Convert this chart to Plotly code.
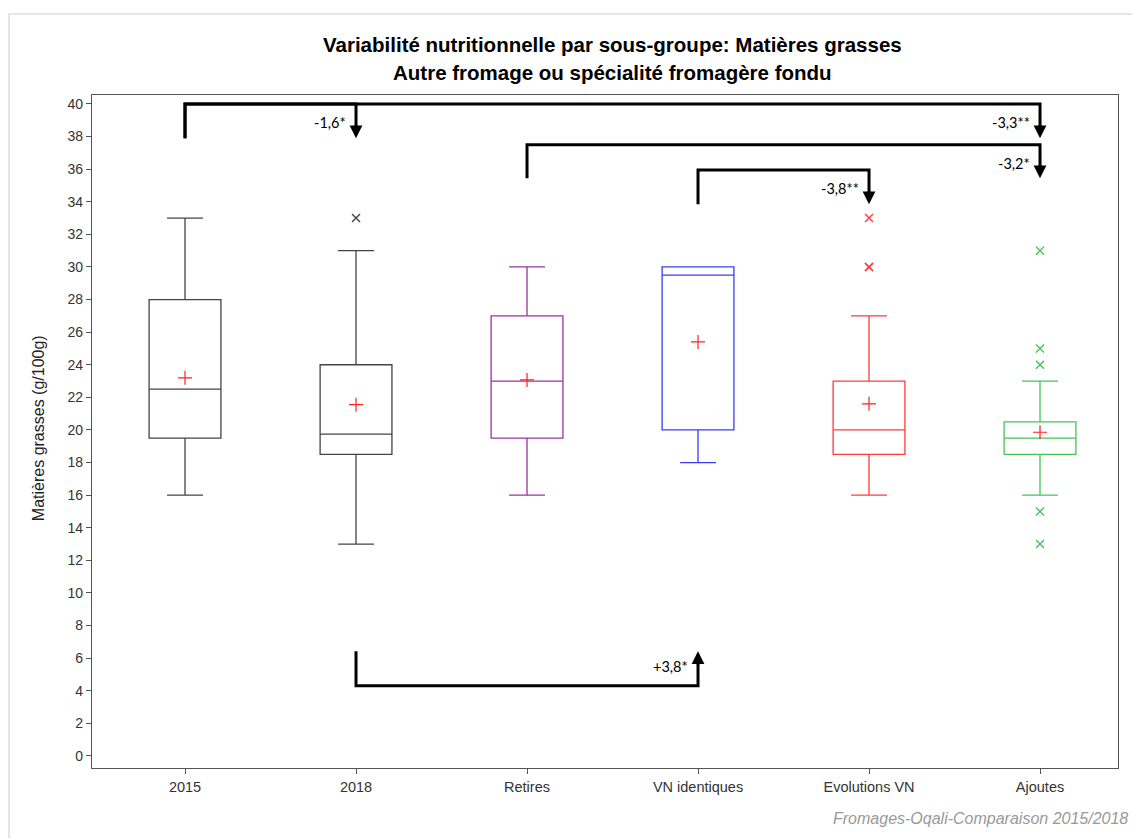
import plotly.graph_objects as go

categories = ["2015", "2018", "Retires", "VN identiques", "Evolutions VN", "Ajoutes"]
colors = ["#444444", "#444444", "#9933A0", "#3B3BF5", "#FF3B3B", "#46C458"]

lower_whisker = [16.0, 13.0, 16.0, 18.0, 16.0, 16.0]
q1 = [19.5, 18.5, 19.5, 20.0, 18.5, 18.5]
median = [22.5, 19.75, 23.0, 29.5, 20.0, 19.5]
q3 = [28.0, 24.0, 27.0, 30.0, 23.0, 20.5]
upper_whisker = [33.0, 31.0, 30.0, 30.0, 27.0, 23.0]
means = [23.2, 21.55, 23.07, 25.4, 21.6, 19.86]
outliers = [[], [33.0], [], [], [33.0, 30.0, 30.0], [31.0, 25.0, 24.0, 15.0, 13.0]]

# significance comparisons: (from, to, bracket level, end level, label)
comparisons = [
    ("2015", "2018", 40.0, 37.9, "-1,6*"),
    ("2015", "Ajoutes", 40.0, 37.9, "-3,3**"),
    ("Retires", "Ajoutes", 37.5, 35.45, "-3,2*"),
    ("VN identiques", "Evolutions VN", 35.95, 33.85, "-3,8**"),
    ("2018", "VN identiques", 4.3, 6.42, "+3,8*"),
]

title_lines = ["Variabilité nutritionnelle par sous-groupe: Matières grasses",
               "Autre fromage ou spécialité fromagère fondu"]
y_title = "Matières grasses (g/100g)"
footer = "Fromages-Oqali-Comparaison 2015/2018"

fig = go.Figure()
idx = {c: i for i, c in enumerate(categories)}

for i, c in enumerate(categories):
    fig.add_trace(go.Box(
        x=[i], q1=[q1[i]], median=[median[i]], q3=[q3[i]],
        lowerfence=[lower_whisker[i]], upperfence=[upper_whisker[i]],
        width=0.42, whiskerwidth=0.5,
        line=dict(color=colors[i], width=1.3),
        fillcolor="rgba(0,0,0,0)", boxpoints=False, name=c, showlegend=False,
        hoverinfo="skip",
    ))
    if outliers[i]:
        fig.add_trace(go.Scatter(
            x=[i] * len(outliers[i]), y=outliers[i], mode="markers",
            marker=dict(symbol="x-thin", size=8, line=dict(color=colors[i], width=1.4)),
            showlegend=False, hoverinfo="skip",
        ))

fig.add_trace(go.Scatter(
    x=list(range(len(categories))), y=means, mode="markers",
    marker=dict(symbol="cross-thin", size=10, line=dict(color="#FF2020", width=1.2)),
    showlegend=False, hoverinfo="skip",
))

shapes = []
annotations = []
for (a, b, level, end, label) in comparisons:
    xa, xb = idx[a], idx[b]
    direction = 1 if level > end else -1
    near_tip = end + direction * 0.45
    shapes.append(dict(
        type="path", xref="x", yref="y",
        path=f"M {xa},{end} L {xa},{level} L {xb},{level} L {xb},{near_tip}",
        line=dict(color="black", width=3),
    ))
    annotations.append(dict(
        x=xb, y=end, ax=xb, ay=end + direction * 0.9, axref="x", ayref="y",
        xref="x", yref="y", text="", showarrow=True, arrowhead=2,
        arrowwidth=3, arrowsize=0.85, arrowcolor="black", standoff=0,
    ))
    annotations.append(dict(
        x=xb, y=level - (level - end) * 0.55, xref="x", yref="y", text=label,
        showarrow=False, xanchor="right", yanchor="middle", xshift=-8,
        font=dict(family="Lato, Liberation Sans, sans-serif", size=14.5, color="black"),
    ))

title_font = dict(family="Liberation Sans, Arial, sans-serif", size=20.5, color="black")
annotations.append(dict(x=0.507, y=1.0743, xref="paper", yref="paper", text=f"<b>{title_lines[0]}</b>",
                        showarrow=False, xanchor="center", yanchor="middle", font=title_font))
annotations.append(dict(x=0.507, y=1.0327, xref="paper", yref="paper", text=f"<b>{title_lines[1]}</b>",
                        showarrow=False, xanchor="center", yanchor="middle", font=title_font))
annotations.append(dict(x=-0.0526, y=0.505, xref="paper", yref="paper", text=y_title, textangle=-90,
                        showarrow=False, xanchor="center", yanchor="middle",
                        font=dict(family="Liberation Sans, Arial, sans-serif", size=16, color="#222")))
annotations.append(dict(x=1.0117, y=-0.0743, xref="paper", yref="paper", text=f"<i>{footer}</i>",
                        showarrow=False, xanchor="right", yanchor="middle",
                        font=dict(family="Liberation Sans, Arial, sans-serif", size=16, color="#999999")))

# outer light frame
shapes.append(dict(type="path", xref="paper", yref="paper",
                   path="M -0.0809,-0.1040 L -0.0809,1.1204 L 1.0214,1.1204",
                   line=dict(color="#DDDDDD", width=1.5)))

fig.update_layout(
    width=1132, height=830,
    margin=dict(l=84, r=22, t=87, b=70),
    paper_bgcolor="white", plot_bgcolor="white",
    font=dict(family="Liberation Sans, Arial, sans-serif", size=14, color="#333"),
    shapes=shapes, annotations=annotations, showlegend=False,
)
fig.update_xaxes(
    range=[-0.544, 5.456], tickmode="array", tickvals=list(range(len(categories))), ticktext=categories,
    ticks="outside", ticklen=5, tickcolor="#555", showgrid=False, zeroline=False,
    showline=True, linecolor="#555", linewidth=1.3, mirror=True, tickfont=dict(size=14.5),
)
fig.update_yaxes(
    range=[-0.74, 40.55], dtick=2, tick0=0, ticks="outside", ticklen=5, tickcolor="#555",
    showgrid=False, zeroline=False, showline=True, linecolor="#555", linewidth=1.3, mirror=True,
)

fig.write_html("out.html")
